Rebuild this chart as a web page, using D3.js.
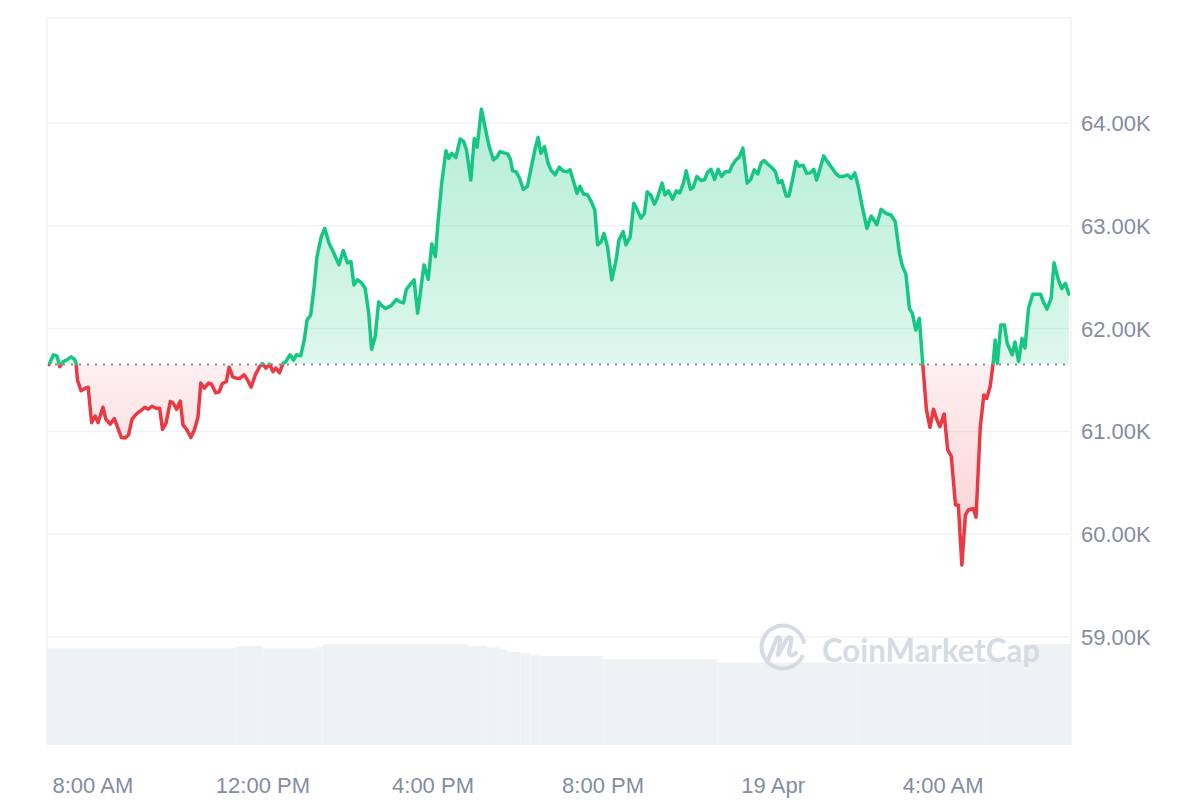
<!DOCTYPE html>
<html><head><meta charset="utf-8">
<script src="https://cdn.jsdelivr.net/npm/d3@7"></script>
<style>body{margin:0;background:#fff;} svg{display:block;font-family:"Liberation Sans",Arial,sans-serif;}</style>
</head><body><svg id="chart" width="1200" height="800"></svg>
<script>
// ---- data ----
const times = [
"06:59","07:05","07:10","07:14","07:19","07:24","07:30","07:35","07:37","07:39",
"07:44","07:50","07:54","07:59","08:04","08:08","08:15","08:19","08:25","08:31",
"08:37","08:41","08:46","08:51","08:56","09:03","09:10","09:14","09:19","09:24",
"09:30","09:35","09:39","09:44","09:50","09:54","09:59","10:04","10:08","10:13",
"10:19","10:24","10:29","10:33","10:38","10:44","10:48","10:54","10:59","11:03",
"11:09","11:13","11:18","11:24","11:28","11:34","11:39","11:44","11:50","11:56",
"12:00","12:05","12:10","12:15","12:19","12:24","12:29","12:33","12:39","12:44",
"12:48","12:54","12:59","13:03","13:08","13:13","13:17","13:23","13:28","13:34",
"13:41","13:48","13:54","14:00","14:05","14:09","14:14","14:20","14:25","14:30",
"14:34","14:39","14:44","14:48","14:54","15:02","15:09","15:14","15:19","15:23",
"15:28","15:34","15:39","15:44","15:48","15:54","15:59","16:04","16:08","16:13",
"16:19","16:23","16:27","16:33","16:39","16:44","16:48","16:54","16:59","17:03",
"17:09","17:14","17:20","17:26","17:31","17:35","17:41","17:46","17:50","17:53",
"17:58","18:03","18:08","18:14","18:20","18:25","18:29","18:33","18:38","18:43",
"18:47","18:53","18:59","19:04","19:10","19:14","19:19","19:24","19:28","19:33",
"19:39","19:44","19:49","19:53","19:58","20:02","20:07","20:13","20:19","20:23",
"20:29","20:33","20:39","20:44","20:48","20:54","20:59","21:03","21:08","21:13",
"21:17","21:24","21:28","21:33","21:39","21:44","21:49","21:54","21:58","22:04",
"22:08","22:13","22:19","22:24","22:28","22:33","22:38","22:43","22:48","22:53",
"22:59","23:03","23:08","23:13","23:18","23:24","23:29","23:34","23:39","23:44",
"23:48","23:53","23:59","00:04","00:08","00:13","00:19","00:23","00:28","00:33",
"00:37","00:43","00:48","00:53","00:58","01:02","01:07","01:12","01:17","01:24",
"01:29","01:34","01:40","01:46","01:51","01:56","02:01","02:06","02:13","02:19",
"02:27","02:33","02:40","02:47","02:53","02:59","03:03","03:08","03:13","03:17",
"03:22","03:27","03:32","03:37","03:42","03:47","03:52","03:56","04:02","04:07",
"04:12","04:18","04:22","04:27","04:32","04:36","04:43","04:47","04:53","04:58",
"05:02","05:07","05:11","05:14","05:17","05:22","05:27","05:31","05:38","05:42",
"05:47","05:52","05:56","06:01","06:07","06:12","06:18","06:22","06:27","06:33",
"06:37","06:43","06:48","06:53","06:58"];

const prices = [
61650,61745,61735,61630,61680,61695,61725,61700,61660,61500,
61395,61420,61430,61085,61150,61085,61235,61120,61070,61125,
61015,60940,60935,60965,61120,61175,61210,61235,61215,61245,
61225,61225,61020,61080,61290,61275,61215,61295,61060,61020,
60940,61015,61135,61470,61420,61470,61460,61375,61385,61460,
61485,61625,61530,61515,61515,61550,61500,61430,61550,61630,
61660,61615,61655,61580,61615,61570,61660,61680,61745,61695,
61745,61735,61890,62085,62130,62410,62700,62895,62975,62830,
62730,62620,62760,62640,62650,62425,62475,62445,62390,62150,
61800,61920,62260,62225,62195,62225,62285,62260,62250,62380,
62425,62475,62150,62410,62620,62480,62825,62700,63055,63415,
63730,63655,63705,63665,63845,63820,63735,63445,63850,63765,
64135,63965,63770,63640,63670,63720,63710,63700,63645,63535,
63525,63460,63355,63385,63590,63755,63860,63705,63770,63610,
63545,63495,63570,63535,63525,63545,63430,63315,63385,63310,
63300,63235,63155,62815,62845,62925,62795,62475,62665,62860,
62945,62815,62895,63220,63170,63075,63120,63330,63300,63210,
63265,63415,63300,63340,63260,63340,63320,63415,63535,63355,
63375,63480,63440,63450,63520,63550,63450,63550,63480,63525,
63525,63590,63640,63670,63755,63415,63450,63545,63505,63615,
63635,63600,63565,63525,63420,63440,63290,63290,63450,63625,
63580,63590,63510,63515,63550,63445,63560,63680,63625,63560,
63510,63480,63480,63495,63460,63515,63380,63200,62975,63095,
63010,63160,63120,63105,63040,62730,62610,62530,62195,62150,
61985,62100,61640,61210,61040,61215,61110,61045,61170,60820,
60760,60285,60285,59700,60185,60235,60250,60165,61045,61355,
61320,61440,61655,61890,61660,62035,62035,61855,61745,61870,
61680,61905,61810,62195,62335,62335,62335,62260,62190,62295,
62640,62480,62390,62440,62335];

// volume (billions USD), step segments starting at these times
const volStarts = ["06:56","11:23","12:01","13:17","13:25","16:50","17:17","17:35","17:45","18:04","18:18","18:32","20:01","22:42","02:00","05:00","05:59"];
const volumes   = [45.5, 46.6, 45.5, 46.2, 47.5, 46.6, 45.9, 45.0, 43.9, 43.1, 42.3, 41.9, 40.3, 38.7, 38.3, 40.0, 47.5];

const yTicks = [59000, 60000, 61000, 62000, 63000, 64000];
const yTickLabels = ["59.00K","60.00K","61.00K","62.00K","63.00K","64.00K"];
const xTickTimes = ["2024-04-18 08:00","2024-04-18 12:00","2024-04-18 16:00","2024-04-18 20:00","2024-04-19 00:00","2024-04-19 04:00"];
const xTickLabels = ["8:00 AM","12:00 PM","4:00 PM","8:00 PM","19 Apr","4:00 AM"];
const domainStart = "2024-04-18 06:56", domainEnd = "2024-04-19 07:01";

// ---- helpers ----
const parse = d3.timeParse("%Y-%m-%d %H:%M");
function toDates(arr) {
  let day = 18, prev = -1;
  return arr.map(s => {
    const [h, m] = s.split(":").map(Number);
    const mins = h * 60 + m;
    if (mins < prev) day++;
    prev = mins;
    return parse(`2024-04-${day} ${s}`);
  });
}
const dates = toDates(times);
const data = dates.map((d, i) => ({ t: d, p: prices[i] }));
const volDates = toDates(volStarts);

const svg = d3.select("#chart");
const L = 47, R = 1071, T = 18, B = 745;

const x = d3.scaleTime().domain([parse(domainStart), parse(domainEnd)]).range([L, R]);
const y = d3.scaleLinear().domain([59000, 64000]).range([637, 123]);
const yv = d3.scaleLinear().domain([0, 47.5]).range([B, 644]);

const base = prices[0];
const yBase = y(base);

const defs = svg.append("defs");
const gUp = defs.append("linearGradient").attr("id", "gUp").attr("gradientUnits", "userSpaceOnUse")
  .attr("x1", 0).attr("x2", 0).attr("y1", y(d3.max(prices))).attr("y2", yBase);
gUp.append("stop").attr("offset", 0).attr("stop-color", "#16c784").attr("stop-opacity", 0.32);
gUp.append("stop").attr("offset", 1).attr("stop-color", "#16c784").attr("stop-opacity", 0.14);
const gDn = defs.append("linearGradient").attr("id", "gDn").attr("gradientUnits", "userSpaceOnUse")
  .attr("x1", 0).attr("x2", 0).attr("y1", yBase).attr("y2", y(d3.min(prices)));
gDn.append("stop").attr("offset", 0).attr("stop-color", "#ea3943").attr("stop-opacity", 0.08);
gDn.append("stop").attr("offset", 1).attr("stop-color", "#ea3943").attr("stop-opacity", 0.24);

defs.append("clipPath").attr("id", "cUp").append("rect").attr("x", 0).attr("y", 0).attr("width", 1200).attr("height", yBase);
defs.append("clipPath").attr("id", "cDn").append("rect").attr("x", 0).attr("y", yBase).attr("width", 1200).attr("height", 800 - yBase);

// gridlines
svg.append("g").selectAll("line").data(yTicks).join("line")
  .attr("x1", L).attr("x2", R).attr("y1", d => y(d)).attr("y2", d => y(d))
  .attr("stroke", "#eff2f5").attr("stroke-width", 1.5);
// top border
svg.append("line").attr("x1", L).attr("x2", R).attr("y1", T).attr("y2", T).attr("stroke", "#eff2f5").attr("stroke-width", 1.5);

// volume bars
const volEnd = parse(domainEnd);
svg.append("g").selectAll("rect").data(volumes).join("rect")
  .attr("x", (d, i) => x(volDates[i]))
  .attr("width", (d, i) => x(i + 1 < volDates.length ? volDates[i + 1] : volEnd) - x(volDates[i]))
  .attr("y", d => yv(d)).attr("height", d => yv(0) - yv(d))
  .attr("fill", "#eff2f5");

// watermark
const wm = svg.append("g").attr("opacity", 0.9);
wm.append("path")
  .attr("d", d3.arc()({ innerRadius: 19.5, outerRadius: 23.5, startAngle: Math.PI * 0.62, endAngle: Math.PI * 2.45 }))
  .attr("transform", "translate(783,647)").attr("fill", "#d3d8e2");
wm.append("path")
  .attr("d", "M768,660 L776,640 C778,636 781,637 780,642 L778,655 L787,639 C789,636 792,637 791,642 L789,652 C789,656 793,656 796,653")
  .attr("fill", "none").attr("stroke", "#d3d8e2").attr("stroke-width", 4.2).attr("stroke-linecap", "round").attr("stroke-linejoin", "round");
wm.append("text").attr("x", 822).attr("y", 662).attr("textLength", 218).attr("lengthAdjust", "spacingAndGlyphs")
  .attr("font-family", "Lato, 'Open Sans', sans-serif").attr("font-weight", 700).attr("font-size", 33)
  .attr("fill", "#d3d8e2").text("CoinMarketCap");

// areas
const area = d3.area().x(d => x(d.t)).y0(yBase).y1(d => y(d.p));
svg.append("path").datum(data).attr("d", area).attr("fill", "url(#gUp)").attr("clip-path", "url(#cUp)");
svg.append("path").datum(data).attr("d", area).attr("fill", "url(#gDn)").attr("clip-path", "url(#cDn)");

// baseline dotted
svg.append("line").attr("x1", L).attr("x2", x(dates[dates.length - 1])).attr("y1", yBase).attr("y2", yBase)
  .attr("stroke", "#858ca2").attr("stroke-width", 2).attr("stroke-dasharray", "2,6");

// lines
const line = d3.line().x(d => x(d.t)).y(d => y(d.p));
svg.append("path").datum(data).attr("d", line).attr("fill", "none").attr("stroke", "#16c784")
  .attr("stroke-width", 3.5).attr("stroke-linejoin", "round").attr("stroke-linecap", "round").attr("clip-path", "url(#cUp)");
svg.append("path").datum(data).attr("d", line).attr("fill", "none").attr("stroke", "#ea3943")
  .attr("stroke-width", 3.5).attr("stroke-linejoin", "round").attr("stroke-linecap", "round").attr("clip-path", "url(#cDn)");

// side borders
svg.append("line").attr("x1", L).attr("x2", L).attr("y1", T).attr("y2", B).attr("stroke", "#eff2f5").attr("stroke-width", 1.5);
svg.append("line").attr("x1", R).attr("x2", R).attr("y1", T).attr("y2", B).attr("stroke", "#eff2f5").attr("stroke-width", 1.5);

// y axis (right)
const yAxis = d3.axisRight(y).tickValues(yTicks).tickSize(0).tickPadding(0)
  .tickFormat((d, i) => yTickLabels[i]);
const ga = svg.append("g").attr("transform", "translate(1081,0)").call(yAxis);
ga.select(".domain").remove();
ga.selectAll("text").attr("font-size", 22).attr("font-family", "'Liberation Sans', Arial, sans-serif").attr("fill", "#858ca2").attr("dy", "0.34em");

// x axis
const xAxis = d3.axisBottom(x).tickValues(xTickTimes.map(parse)).tickSize(0).tickPadding(0)
  .tickFormat((d, i) => xTickLabels[i]);
const gx = svg.append("g").attr("transform", "translate(0,777)").call(xAxis);
gx.select(".domain").remove();
gx.selectAll("text").attr("font-size", 22).attr("font-family", "'Liberation Sans', Arial, sans-serif").attr("fill", "#858ca2");
</script></body></html>
